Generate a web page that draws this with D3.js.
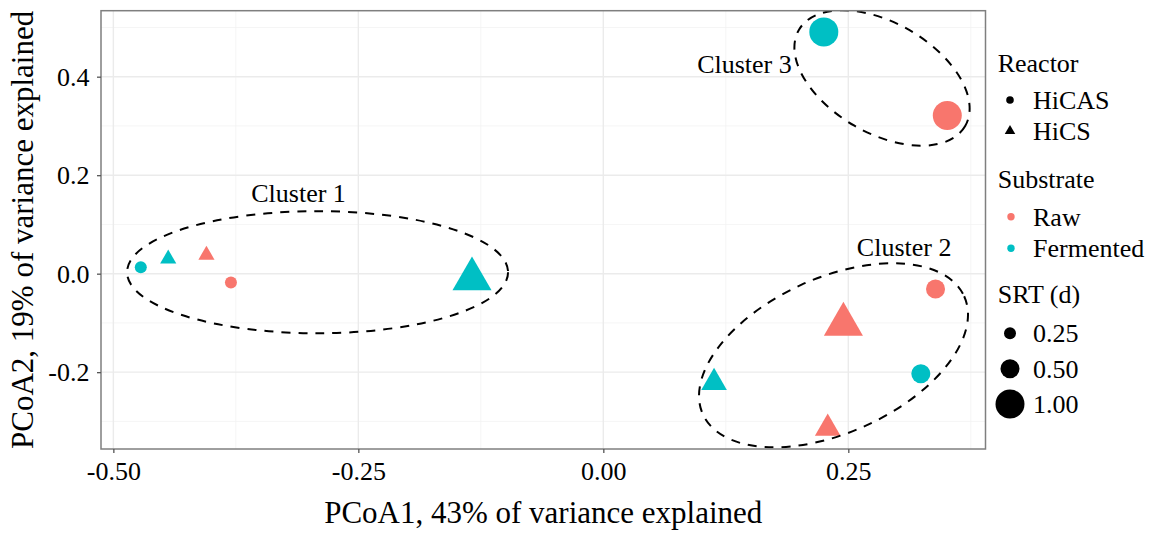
<!DOCTYPE html>
<html>
<head>
<meta charset="utf-8">
<script src="https://cdn.jsdelivr.net/npm/d3@7"></script>
<style>
  body { margin: 0; background: #fff; }
  text { font-family: "Liberation Serif", "Times New Roman", serif; fill: #000; }
</style>
</head>
<body>
<script>
// PCoA scores, one entry per sample
const pcoa1 = [-0.472, -0.444, -0.405, -0.380, -0.134, 0.339, 0.245, 0.113, 0.324, 0.229, 0.225, 0.351];
const pcoa2 = [0.013, 0.030, 0.038, -0.018, -0.011, -0.031, -0.103, -0.221, -0.203, -0.314, 0.491, 0.321];
const reactor = ["HiCAS", "HiCS", "HiCS", "HiCAS", "HiCS", "HiCAS", "HiCS", "HiCS", "HiCAS", "HiCS", "HiCAS", "HiCAS"];
const substrate = ["Fermented", "Fermented", "Raw", "Raw", "Fermented", "Raw", "Raw", "Fermented", "Fermented", "Raw", "Fermented", "Raw"];
const srt = [0.25, 0.25, 0.25, 0.25, 1.00, 0.50, 1.00, 0.50, 0.50, 0.50, 1.00, 1.00];

// Legend levels
const reactorLevels = ["HiCAS", "HiCS"];
const substrateLevels = ["Raw", "Fermented"];
const srtLevels = [0.25, 0.50, 1.00];

// Tick values
const xTicks = [-0.50, -0.25, 0.00, 0.25];
const yTicks = [-0.2, 0.0, 0.2, 0.4];
const xMinor = [-0.375, -0.125, 0.125, 0.375];
const yMinor = [-0.3, -0.1, 0.1, 0.3, 0.5];

// Cluster ellipses (centre and semi-axes in data units, angle in degrees)
const clusterNames = ["Cluster 1", "Cluster 2", "Cluster 3"];
const clusterCx = [-0.2916, 0.2349, 0.2844];
const clusterCy = [0.003, -0.1657, 0.3974];
const clusterA = [0.1944, 0.1463, 0.098];
const clusterB = [0.124, 0.1573, 0.112];
const clusterAngle = [0, -24.3, 30];
const labelX = [-0.311, 0.307, 0.144];
const labelY = [0.164, 0.054, 0.426];

const width = 1157, height = 534;
const panel = { left: 101, right: 985.5, top: 10.7, bottom: 449 };

const svg = d3.select("body").append("svg")
  .attr("width", width)
  .attr("height", height);

const x = d3.scaleLinear().domain([-0.5126, 0.390]).range([panel.left, panel.right]);
const y = d3.scaleLinear().domain([-0.356, 0.534]).range([panel.bottom, panel.top]);
const color = d3.scaleOrdinal().domain(substrateLevels).range(["#F8766D", "#00BFC4"]);
// ggplot-style area scale: radius linear in sqrt(value)
const size = d3.scaleSqrt().domain([0.25, 1]).range([6, 14.5]);

// R's filled triangle (pch 17), centred on its centroid
function trianglePath(r) {
  const t = 1.5551 * r, xc = 1.3468 * r, yc = 0.7776 * r;
  return `M0,${-t}L${xc},${yc}L${-xc},${yc}Z`;
}

// Grid lines
const grid = svg.append("g");
xMinor.forEach(v => grid.append("line")
  .attr("x1", x(v)).attr("x2", x(v)).attr("y1", panel.top).attr("y2", panel.bottom)
  .attr("stroke", "#F2F2F2").attr("stroke-width", 0.8));
yMinor.forEach(v => grid.append("line")
  .attr("x1", panel.left).attr("x2", panel.right).attr("y1", y(v)).attr("y2", y(v))
  .attr("stroke", "#F2F2F2").attr("stroke-width", 0.8));
xTicks.forEach(v => grid.append("line")
  .attr("x1", x(v)).attr("x2", x(v)).attr("y1", panel.top).attr("y2", panel.bottom)
  .attr("stroke", "#EBEBEB").attr("stroke-width", 1.4));
yTicks.forEach(v => grid.append("line")
  .attr("x1", panel.left).attr("x2", panel.right).attr("y1", y(v)).attr("y2", y(v))
  .attr("stroke", "#EBEBEB").attr("stroke-width", 1.4));

// Clip everything inside the panel
svg.append("clipPath").attr("id", "panel-clip")
  .append("rect")
  .attr("x", panel.left).attr("y", panel.top)
  .attr("width", panel.right - panel.left).attr("height", panel.bottom - panel.top);

const plot = svg.append("g").attr("clip-path", "url(#panel-clip)");

// Points
const points = pcoa1.map((v, i) => ({ x: v, y: pcoa2[i], reactor: reactor[i], substrate: substrate[i], srt: srt[i] }));

plot.selectAll(".pt")
  .data(points)
  .enter()
  .append("path")
  .attr("class", "pt")
  .attr("transform", d => `translate(${x(d.x)},${y(d.y)})`)
  .attr("d", d => d.reactor === "HiCAS"
    ? d3.symbol(d3.symbolCircle, Math.PI * size(d.srt) ** 2)()
    : trianglePath(size(d.srt)))
  .attr("fill", d => color(d.substrate));

// Dashed cluster ellipses
clusterNames.forEach((name, i) => {
  const rx = x(clusterA[i]) - x(0);
  const ry = y(0) - y(clusterB[i]);
  plot.append("ellipse")
    .attr("transform", `translate(${x(clusterCx[i])},${y(clusterCy[i])}) rotate(${clusterAngle[i]})`)
    .attr("rx", rx)
    .attr("ry", ry)
    .attr("fill", "none")
    .attr("stroke", "#000")
    .attr("stroke-width", 2)
    .attr("stroke-dasharray", "9,8");

  svg.append("text")
    .attr("x", x(labelX[i]))
    .attr("y", y(labelY[i]))
    .attr("text-anchor", "middle")
    .attr("dy", "0.35em")
    .attr("font-size", 26)
    .text(name);
});

// Panel border
svg.append("rect")
  .attr("x", panel.left).attr("y", panel.top)
  .attr("width", panel.right - panel.left).attr("height", panel.bottom - panel.top)
  .attr("fill", "none")
  .attr("stroke", "#7F7F7F")
  .attr("stroke-width", 1.5);

// Axes
const xAxis = svg.append("g")
  .attr("transform", `translate(0,${panel.bottom})`)
  .call(d3.axisBottom(x).tickValues(xTicks).tickFormat(d => d.toFixed(2)).tickSize(4).tickPadding(9));
const yAxis = svg.append("g")
  .attr("transform", `translate(${panel.left},0)`)
  .call(d3.axisLeft(y).tickValues(yTicks).tickFormat(d => d.toFixed(1)).tickSize(4).tickPadding(7.5));

[xAxis, yAxis].forEach(a => {
  a.select(".domain").remove();
  a.selectAll(".tick line").attr("stroke", "#555").attr("stroke-width", 1.3);
  a.selectAll(".tick text")
    .attr("font-family", "Liberation Serif, Times New Roman, serif")
    .attr("font-size", 26)
    .attr("fill", "#000");
});

// Axis titles
svg.append("text")
  .attr("x", (panel.left + panel.right) / 2)
  .attr("y", 523)
  .attr("text-anchor", "middle")
  .attr("font-size", 31)
  .text("PCoA1, 43% of variance explained");

svg.append("text")
  .attr("transform", `translate(33,${(panel.top + panel.bottom) / 2}) rotate(-90)`)
  .attr("text-anchor", "middle")
  .attr("font-size", 31)
  .text("PCoA2, 19% of variance explained");

// Legends
const legend = svg.append("g");
const keyX = 1010, labelOffset = 1033;

legend.append("text").attr("x", 997.7).attr("y", 71.7).attr("font-size", 26).text("Reactor");
reactorLevels.forEach((lvl, i) => {
  const cy = 100 + i * 31;
  legend.append("path")
    .attr("transform", `translate(${keyX},${cy})`)
    .attr("d", lvl === "HiCAS" ? d3.symbol(d3.symbolCircle, Math.PI * 3.8 * 3.8)() : trianglePath(3.9))
    .attr("fill", "#000");
  legend.append("text").attr("x", labelOffset).attr("y", cy).attr("dy", "0.35em")
    .attr("font-size", 26).text(lvl);
});

legend.append("text").attr("x", 997.7).attr("y", 187.7).attr("font-size", 26).text("Substrate");
substrateLevels.forEach((lvl, i) => {
  const cy = 216.7 + i * 31.6;
  legend.append("circle")
    .attr("cx", keyX + 1).attr("cy", cy).attr("r", 3.7)
    .attr("fill", color(lvl));
  legend.append("text").attr("x", labelOffset).attr("y", cy).attr("dy", "0.35em")
    .attr("font-size", 26).text(lvl);
});

legend.append("text").attr("x", 997.7).attr("y", 303.3).attr("font-size", 26).text("SRT (d)");
srtLevels.forEach((lvl, i) => {
  const cy = 333.3 + i * 35.4;
  legend.append("circle")
    .attr("cx", keyX).attr("cy", cy).attr("r", size(lvl))
    .attr("fill", "#000");
  legend.append("text").attr("x", labelOffset).attr("y", cy).attr("dy", "0.35em")
    .attr("font-size", 26).text(lvl.toFixed(2));
});
</script>
</body>
</html>
